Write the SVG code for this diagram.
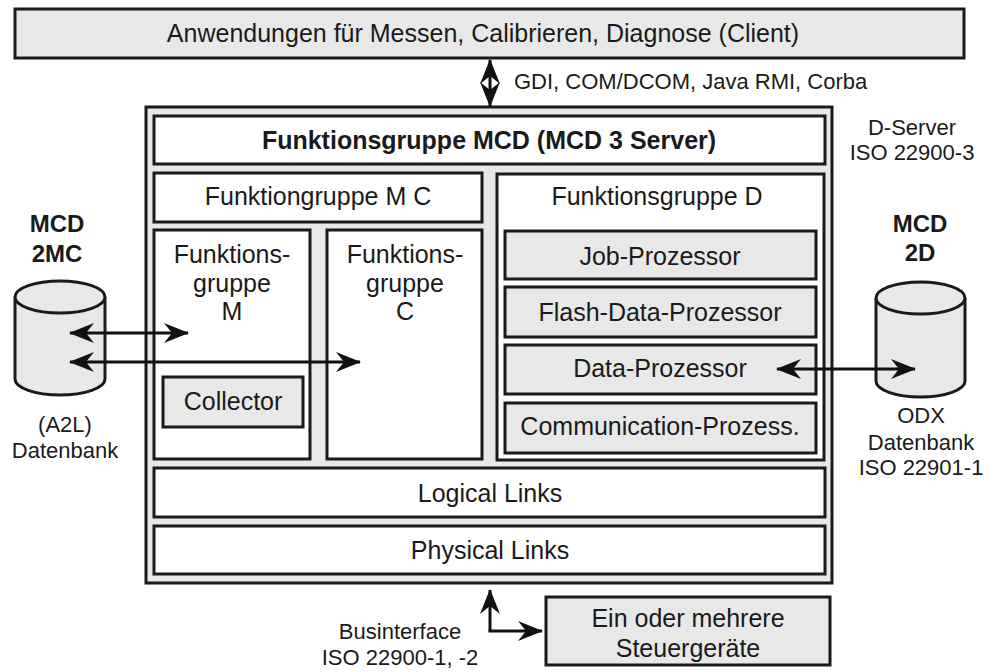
<svg xmlns="http://www.w3.org/2000/svg" width="988" height="672" viewBox="0 0 988 672">
<defs>
<style>
text{font-family:"Liberation Sans",Arial,sans-serif;fill:#1a1a1a;text-anchor:middle}
.t{font-size:25px}
.b{font-size:25px;font-weight:bold}
.m{font-size:24px;font-weight:bold}
.s{font-size:22px}
.g{fill:#e8e8e8;stroke:#1a1a1a;stroke-width:3}
.w{fill:#ffffff;stroke:#1a1a1a;stroke-width:3}
.ln{fill:none;stroke:#111;stroke-width:3}
</style>
<marker id="ah" markerUnits="userSpaceOnUse" markerWidth="26" markerHeight="22" refX="24" refY="11" orient="auto-start-reverse" viewBox="0 0 26 22">
<path d="M0,1 L25,11 L0,21 L8,11 Z" fill="#111"/>
</marker>
</defs>
<rect width="988" height="672" fill="#ffffff"/>

<g id="client">
<rect class="g" x="15" y="9" width="949" height="49"/>
<text class="t" x="483" y="42">Anwendungen für Messen, Calibrieren, Diagnose (Client)</text>
</g>

<g id="server">
<rect class="g" x="146" y="107" width="686" height="476"/>
</g>
<g id="mcd3">
<rect class="w" x="154" y="116" width="671" height="48"/>
<text class="b" x="489" y="149">Funktionsgruppe MCD (MCD 3 Server)</text>
</g>
<g id="mc">
<rect class="w" x="154" y="173" width="328" height="49"/>
<text class="t" x="318" y="205">Funktiongruppe M C</text>
</g>
<g id="m">
<rect class="w" x="154" y="230" width="156" height="229"/>
<text class="t" x="232" y="263">Funktions-</text>
<text class="t" x="232" y="292">gruppe</text>
<text class="t" x="232" y="320">M</text>
</g>
<g id="collector">
<rect class="g" x="163" y="377" width="140" height="50"/>
<text class="t" x="233" y="410">Collector</text>
</g>
<g id="c">
<rect class="w" x="327" y="230" width="155" height="229"/>
<text class="t" x="405" y="263">Funktions-</text>
<text class="t" x="405" y="292">gruppe</text>
<text class="t" x="405" y="320">C</text>
</g>
<g id="d">
<rect class="w" x="497" y="174" width="327" height="286"/>
<text class="t" x="657" y="205">Funktionsgruppe D</text>
</g>
<g id="job">
<rect class="g" x="505" y="231" width="311" height="48"/>
<text class="t" x="660" y="265">Job-Prozessor</text>
</g>
<g id="flash">
<rect class="g" x="505" y="287" width="311" height="50"/>
<text class="t" x="660" y="321">Flash-Data-Prozessor</text>
</g>
<g id="data">
<rect class="g" x="505" y="345" width="311" height="49"/>
<text class="t" x="660" y="377">Data-Prozessor</text>
</g>
<g id="comm">
<rect class="g" x="505" y="403" width="311" height="50"/>
<text class="t" x="660" y="435">Communication-Prozess.</text>
</g>
<g id="logical">
<rect class="w" x="154" y="468" width="671" height="49"/>
<text class="t" x="490" y="502">Logical Links</text>
</g>
<g id="physical">
<rect class="w" x="154" y="526" width="671" height="48"/>
<text class="t" x="490" y="559">Physical Links</text>
</g>

<g id="dserver-label">
<text class="s" x="912" y="135">D-Server</text>
<text class="s" x="912" y="160">ISO 22900-3</text>
</g>

<g id="db-mc">
<text class="m" x="57" y="232">MCD</text>
<text class="m" x="57" y="262">2MC</text>
<path class="g" d="M15,297 L15,379 A45,16 0 0 0 105,379 L105,297"/>
<ellipse class="g" cx="60" cy="297" rx="45" ry="16"/>
<text class="s" x="65" y="432">(A2L)</text>
<text class="s" x="65" y="458">Datenbank</text>
</g>

<g id="db-d">
<text class="m" x="920" y="232">MCD</text>
<text class="m" x="920" y="261">2D</text>
<path class="g" d="M876,298 L876,381 A44.5,16 0 0 0 965,381 L965,298"/>
<ellipse class="g" cx="920.5" cy="298" rx="44.5" ry="16"/>
<text class="s" x="921" y="423">ODX</text>
<text class="s" x="921" y="450">Datenbank</text>
<text class="s" x="921" y="475">ISO 22901-1</text>
</g>

<g id="steuergeraete">
<rect class="g" x="546" y="597" width="284" height="68"/>
<text class="t" x="688" y="627">Ein oder mehrere</text>
<text class="t" x="688" y="657">Steuergeräte</text>
</g>

<g id="bus-label">
<text class="s" x="400" y="639">Businterface</text>
<text class="s" x="400" y="665">ISO 22900-1, -2</text>
</g>

<g id="connectors">
<line class="ln" x1="490" y1="60" x2="490" y2="106" marker-start="url(#ah)" marker-end="url(#ah)"/>
<text class="s" x="514" y="89" style="text-anchor:start">GDI, COM/DCOM, Java RMI, Corba</text>
<line class="ln" x1="70" y1="333" x2="188" y2="333" marker-start="url(#ah)" marker-end="url(#ah)"/>
<line class="ln" x1="70" y1="362" x2="360" y2="362" marker-start="url(#ah)" marker-end="url(#ah)"/>
<line class="ln" x1="777" y1="369" x2="915" y2="369" marker-start="url(#ah)" marker-end="url(#ah)"/>
<path class="ln" d="M490,631 L490,590" marker-end="url(#ah)"/>
<path class="ln" d="M488.5,631 L542,631" marker-end="url(#ah)"/>
</g>
</svg>
